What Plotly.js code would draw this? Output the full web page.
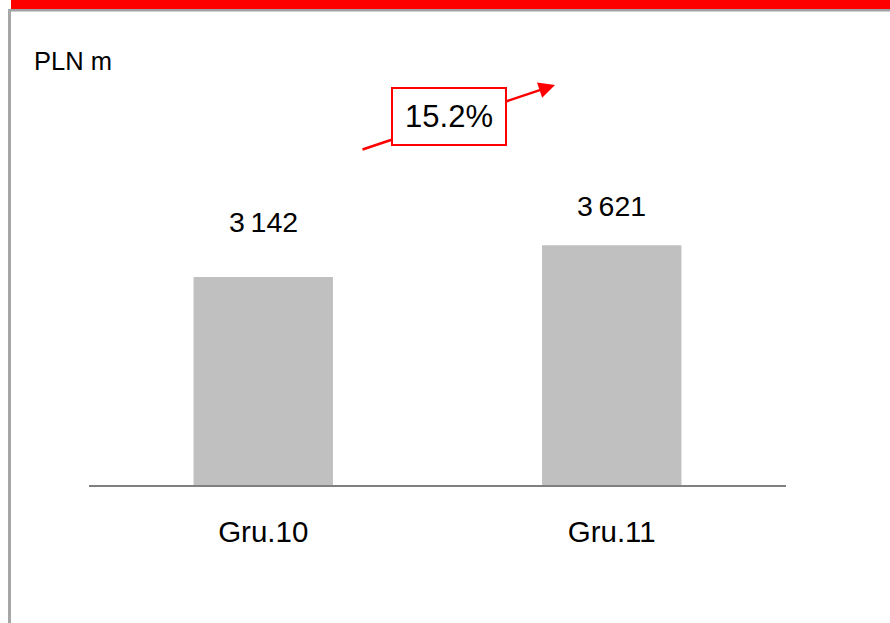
<!DOCTYPE html>
<html>
<head>
<meta charset="utf-8">
<script src="https://cdn.plot.ly/plotly-3.0.1.min.js"></script>
<style>html,body{margin:0;padding:0;background:#fff;}#chart{width:890px;height:623px;}</style>
</head>
<body>
<div id="chart"></div>
<script>
const categories = ['Gru.10', 'Gru.11'];
const values = [3142, 3621];
const unitLabel = 'PLN m';

// helpers
function fmt(v) { return String(v).replace(/\B(?=(\d{3})+(?!\d))/g, '\u2009'); }
const growth = ((values[1] / values[0] - 1) * 100).toFixed(1) + '%';

const L = 89, T = 20, W = 697, H = 465;
const px = p => (p - L) / W;
const py = p => (T + H - p) / H;
const FONT = 'Arial, "Liberation Sans", sans-serif';

const trace = {
  type: 'bar',
  x: categories,
  y: values,
  marker: { color: '#c0c0c0', line: { width: 0 } },
  hoverinfo: 'none'
};

const labelShift = [55, 39];
const annotations = values.map((v, i) => ({
  x: categories[i], y: v, xref: 'x', yref: 'y',
  text: fmt(v), showarrow: false, yanchor: 'middle', yshift: labelShift[i],
  font: { family: FONT, size: 28.5, color: '#000' }
}));

annotations.push({
  x: px(32), y: py(61), xref: 'paper', yref: 'paper', xanchor: 'left', yanchor: 'middle',
  text: unitLabel, showarrow: false, font: { family: FONT, size: 25.5, color: '#000' }
});
// growth arrow
annotations.push({
  x: px(555), y: py(85), xref: 'paper', yref: 'paper',
  ax: 361 - 555, ay: 150 - 85, text: '', showarrow: true,
  arrowhead: 2, arrowsize: 1.3, arrowwidth: 2.5, arrowcolor: '#ff0000', standoff: 0, startstandoff: 0
});
annotations.push({
  x: px(449), y: py(116.5), xref: 'paper', yref: 'paper', xanchor: 'center', yanchor: 'middle',
  text: growth, showarrow: false, bgcolor: '#ffffff', bordercolor: '#ff0000', borderwidth: 2,
  borderpad: 1, width: 110, height: 53,
  font: { family: FONT, size: 31, color: '#000' }
});

const shapes = [
  { type: 'rect', xref: 'paper', yref: 'paper', x0: px(11), x1: px(890), y0: py(9), y1: py(0),
    fillcolor: '#ff0000', line: { width: 0 }, layer: 'above' },
  { type: 'rect', xref: 'paper', yref: 'paper', x0: px(8), x1: px(890), y0: py(11.5), y1: py(9),
    fillcolor: '#a0a0a0', line: { width: 0 }, layer: 'above' },
  { type: 'rect', xref: 'paper', yref: 'paper', x0: px(8), x1: px(11), y0: py(623), y1: py(9),
    fillcolor: '#a6a6a6', line: { width: 0 }, layer: 'above' }
];

const layout = {
  width: 890, height: 623,
  margin: { l: L, r: 890 - L - W, t: T, b: 623 - T - H },
  paper_bgcolor: '#ffffff', plot_bgcolor: '#ffffff',
  showlegend: false,
  bargap: 0.6,
  xaxis: {
    type: 'category', range: [-0.5, 1.5], showgrid: false, zeroline: false,
    showline: true, linecolor: '#808080', linewidth: 2,
    ticks: 'outside', ticklen: 20, tickcolor: 'rgba(0,0,0,0)',
    tickfont: { family: FONT, size: 29.5, color: '#000' }, fixedrange: true
  },
  yaxis: {
    range: [0, H / (208 / 3142)], visible: false, showgrid: false, zeroline: false, fixedrange: true
  },
  annotations: annotations,
  shapes: shapes
};

Plotly.newPlot('chart', [trace], layout, { staticPlot: true, displayModeBar: false });
</script>
</body>
</html>
